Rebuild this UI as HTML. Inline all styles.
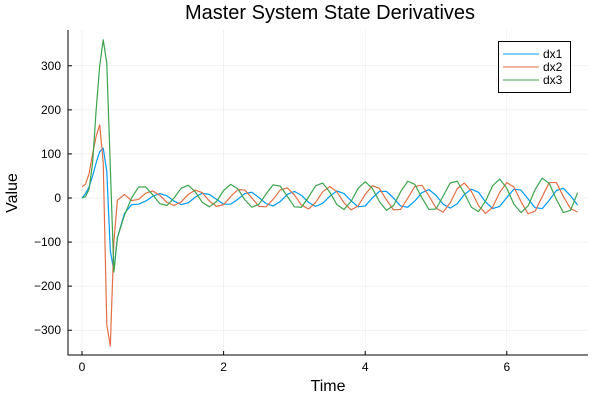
<!DOCTYPE html>
<html><head><meta charset="utf-8"><style>body{margin:0;background:#fff}svg{display:block;font-family:"Liberation Sans",sans-serif}</style></head>
<body>
<svg id="chart" width="600" height="400">
<text x="330" y="19" text-anchor="middle" font-size="20">Master System State Derivatives</text>
<text x="328" y="391" text-anchor="middle" font-size="16">Time</text>
<text transform="translate(17,193) rotate(-90)" text-anchor="middle" font-size="16">Value</text>
<g id="grid"></g><g id="axes"></g><g id="series"></g>
<g>
<rect x="498.5" y="41.5" width="72" height="51" fill="#fff" stroke="#000"/>
<line x1="503" y1="54" x2="539" y2="54" stroke="#009af9"/><text x="543" y="58" font-size="12">dx1</text>
<line x1="503" y1="67" x2="539" y2="67" stroke="#e26f46"/><text x="543" y="71" font-size="12">dx2</text>
<line x1="503" y1="80" x2="539" y2="80" stroke="#3da44d"/><text x="543" y="84" font-size="12">dx3</text>
</g>
</svg>
<script>
const times=[0,0.05,0.1,0.15,0.2,0.25,0.3,0.35,0.4,0.45,0.5,0.6,0.7,0.8,0.9,1.0,1.1,1.2,1.3,1.4,1.5,1.6,1.7,1.8,1.9,2.0,2.1,2.2,2.3,2.4,2.5,2.6,2.7,2.8,2.9,3.0,3.1,3.2,3.3,3.4,3.5,3.6,3.7,3.8,3.9,4.0,4.1,4.2,4.3,4.4,4.5,4.6,4.7,4.8,4.9,5.0,5.1,5.2,5.3,5.4,5.5,5.6,5.7,5.8,5.9,6.0,6.1,6.2,6.3,6.4,6.5,6.6,6.7,6.8,6.9,7.0];
const dx1=[0,10,25,50,80,105,113,60,-120,-165,-90,-35,-15,-14,-7,4,10,5,-7,-15,-11,2,11,8,-3,-14,-14,-3,10,13,1,-13,-18,-8,8,15,6,-10,-19,-12,4,16,10,-6,-20,-18,0,15,15,0,-18,-21,-7,12,19,6,-14,-23,-13,8,20,13,-9,-24,-19,1,20,18,-2,-22,-24,-5,17,22,5,-16];
const dx2=[25,32,55,100,140,166,80,-288,-336,-100,-5,8,-6,-3,11,16,6,-10,-17,-9,8,18,12,-7,-19,-15,3,19,18,0,-19,-20,-3,18,23,7,-16,-25,-10,14,26,14,-11,-27,-18,8,28,22,-4,-27,-26,-1,26,29,5,-23,-32,-11,21,34,15,-17,-35,-21,13,35,25,-8,-36,-30,3,35,35,3,-24,-32];
const dx3=[0,3,20,80,200,300,359,306,70,-168,-90,-39,0,25,25,7,-13,-17,0,22,29,14,-10,-20,-8,17,31,21,-4,-21,-14,9,30,27,4,-20,-21,2,28,34,13,-15,-26,-8,22,37,22,-8,-28,-17,14,38,31,1,-26,-25,4,34,38,11,-21,-31,-7,28,43,22,-14,-33,-18,19,45,33,-3,-33,-28,12];
const yTicks=[-300,-200,-100,0,100,200,300];
const xTicks=[0,2,4,6];
const NS='http://www.w3.org/2000/svg';
const L=68,R=588,T=30,B=355;
const xs=t=>82+t*70.8, ys=v=>198-v*0.4407;
function mk(tag,attrs,parent,txt){const e=document.createElementNS(NS,tag);for(const k in attrs)e.setAttribute(k,attrs[k]);if(txt!==undefined)e.textContent=txt;parent.appendChild(e);return e;}
const grid=document.getElementById('grid'),axes=document.getElementById('axes'),series=document.getElementById('series');
yTicks.forEach(v=>{const y=ys(v);
const g=mk('line',{x1:L,x2:R,y1:y,y2:y,stroke:'#000','stroke-opacity':0.1,'stroke-width':0.5},grid);


const tk=mk('line',{x1:L,x2:L+4,y1:y,y2:y,stroke:'#000'},axes);


const t=mk('text',{x:L-7,y:y+4,'text-anchor':'end','font-size':12},axes,String(v).replace('-','\u2212'));

});
xTicks.forEach(v=>{const x=xs(v);
const g=mk('line',{x1:x,x2:x,y1:T,y2:B,stroke:'#000','stroke-opacity':0.1,'stroke-width':0.5},grid);


const tk=mk('line',{x1:x,x2:x,y1:B,y2:B-4,stroke:'#000'},axes);


const t=mk('text',{x:x,y:B+16,'text-anchor':'middle','font-size':12},axes,String(v));

});
const ax=mk('path',{d:`M${L},${T}V${B}H${R}`,fill:'none',stroke:'#000'},axes);


[[dx1,'#009af9','dx1'],[dx2,'#e26f46','dx2'],[dx3,'#3da44d','dx3']].forEach(([d,c,n])=>{
const p=mk('polyline',{points:d.map((v,i)=>xs(times[i])+','+ys(v)).join(' '),fill:'none',stroke:c,'stroke-width':1.2,'stroke-linejoin':'round'},series);

});
</script>
</body></html>
